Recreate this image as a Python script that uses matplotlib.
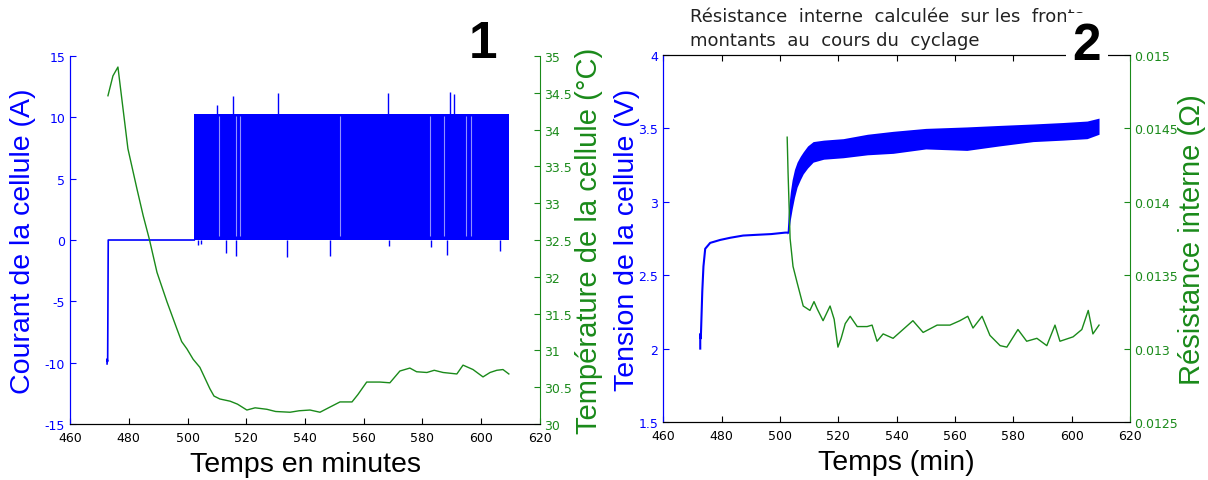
import matplotlib
matplotlib.use("Agg")
import matplotlib.pyplot as plt

plt.rcParams['font.family'] = ['Liberation Sans', 'DejaVu Sans']
plt.rcParams['axes.unicode_minus'] = False

BLUE = '#0000ff'
GREEN = '#1a8a1a'

# --- graph 1 : courant / temperature
cur_t = [472.6, 472.6, 472.8, 473.0, 502.3]
cur_i = [-10.1, -9.7, -9.9, 0.0, 0.0]
pulse_start, pulse_end = 502.2, 609.4
pulse_low, pulse_high = 0.0, 10.27
spike_up_t = [510.0, 515.5, 530.8, 568.2, 589.4, 590.7]
spike_up_i = [11.0, 11.7, 12.0, 12.0, 12.1, 11.9]
spike_dn_t = [503.5, 504.6, 513.0, 516.5, 533.8, 548.5, 568.5, 583.0, 588.3, 606.3]
spike_dn_i = [-0.4, -0.3, -1.1, -1.3, -1.4, -1.3, -0.5, -0.6, -1.2, -0.9]
gap_t = [510.8, 516.5, 518.0, 551.9, 582.5, 587.3, 594.8, 596.5]

temp_t = [472.9, 474.6, 476.3, 477.0, 479.7, 482.8, 484.9, 487.0, 489.6, 493.0,
          496.4, 498.0, 499.8, 501.9, 504.2, 507.6, 509.0, 511.0, 514.5, 517.0,
          520.2, 523.0, 527.0, 530.0, 534.9, 538.0, 541.7, 545.1, 548.0, 551.9,
          556.0, 558.0, 561.0, 565.5, 568.9, 572.3, 575.7, 578.0, 581.5, 584.0,
          587.0, 591.7, 593.8, 597.2, 600.6, 603.0, 605.3, 607.4, 609.4]
temp_c = [34.46, 34.73, 34.85, 34.62, 33.74, 33.19, 32.83, 32.51, 32.06, 31.66,
          31.29, 31.12, 31.02, 30.88, 30.77, 30.48, 30.38, 30.34, 30.31, 30.27,
          30.19, 30.22, 30.20, 30.17, 30.16, 30.18, 30.19, 30.16, 30.22, 30.30,
          30.30, 30.40, 30.57, 30.57, 30.56, 30.72, 30.76, 30.71, 30.70, 30.73,
          30.70, 30.68, 30.80, 30.74, 30.64, 30.70, 30.73, 30.74, 30.68]

# --- graph 2 : tension / resistance
volt_t = [472.7, 472.7, 472.9, 473.4, 473.8, 474.4, 476.1, 479.5, 483.0, 487.4,
          492.0, 497.0, 501.8, 502.5]
volt_v = [2.0, 2.1, 2.07, 2.39, 2.56, 2.68, 2.72, 2.74, 2.755, 2.77,
          2.775, 2.78, 2.79, 2.79]
band_t = [502.5, 503.0, 503.6, 504.2, 505.0, 505.9, 507.0, 508.0, 509.5, 511.4,
          515.0, 521.7, 530.0, 538.8, 550.0, 564.1, 575.0, 586.8, 597.0, 605.3, 609.4]
band_hi = [2.80, 2.96, 3.07, 3.15, 3.22, 3.27, 3.31, 3.34, 3.38, 3.41,
           3.42, 3.43, 3.46, 3.48, 3.50, 3.51, 3.52, 3.53, 3.54, 3.55, 3.57]
band_lo = [2.78, 2.79, 2.88, 2.95, 3.03, 3.10, 3.15, 3.19, 3.23, 3.27,
           3.29, 3.30, 3.32, 3.33, 3.36, 3.35, 3.38, 3.41, 3.42, 3.43, 3.46]

res_t = [502.5, 502.8, 503.5, 504.5, 505.9, 508.0, 510.3, 511.7, 512.8, 514.8,
         517.2, 518.6, 519.9, 521.0, 522.4, 524.1, 526.5, 529.9, 531.6, 533.3,
         535.4, 538.8, 542.2, 545.6, 549.1, 553.9, 558.3, 561.7, 564.4, 566.2,
         569.3, 572.0, 575.5, 577.8, 581.6, 584.6, 588.1, 591.5, 594.3, 596.0,
         600.5, 603.5, 605.7, 607.3, 609.4]
res_ohm = [0.01444, 0.01420, 0.01375, 0.01356, 0.01345, 0.01329, 0.01326, 0.01332, 0.01327, 0.01319,
           0.01329, 0.01320, 0.01301, 0.01307, 0.01317, 0.01322, 0.01315, 0.01315, 0.01316, 0.01305,
           0.01310, 0.01307, 0.01313, 0.01319, 0.01311, 0.01316, 0.01316, 0.01319, 0.01322, 0.01314,
           0.01322, 0.01309, 0.01302, 0.01301, 0.01313, 0.01305, 0.01307, 0.01302, 0.01316, 0.01305,
           0.01308, 0.01313, 0.01326, 0.01310, 0.01316]

x_ticks = [460, 480, 500, 520, 540, 560, 580, 600, 620]
cur_ticks = [-15, -10, -5, 0, 5, 10, 15]
temp_ticks = [30, 30.5, 31, 31.5, 32, 32.5, 33, 33.5, 34, 34.5, 35]
volt_ticks = [1.5, 2, 2.5, 3, 3.5, 4]
res_ticks = [0.0125, 0.013, 0.0135, 0.014, 0.0145, 0.015]
res_labels = ['0.0125', '0.013', '0.0135', '0.014', '0.0145', '0.015']

fig = plt.figure(figsize=(12.08, 4.81), dpi=100)
TICKFONT = 'DejaVu Sans'


def style(ax, twin, lcol, rcol, top):
    ax.set_xlim(460, 620)
    ax.set_xticks(x_ticks)
    ax.set_xticklabels([str(v) for v in x_ticks])
    ax.tick_params(axis='x', direction='in', labelsize=9, length=4, top=top, pad=5)
    ax.tick_params(axis='y', direction='in', labelsize=9, colors=lcol, length=4, pad=3.5)
    twin.tick_params(axis='y', direction='in', labelsize=9, colors=rcol, length=4, pad=3)
    for lab in ax.get_xticklabels() + ax.get_yticklabels() + twin.get_yticklabels():
        lab.set_family(TICKFONT)
    ax.spines['left'].set_color(lcol)
    twin.spines['left'].set_color(lcol)
    ax.spines['right'].set_visible(False)
    twin.spines['right'].set_color(rcol)
    ax.spines['top'].set_visible(top)
    twin.spines['top'].set_visible(top)
    for a in (ax, twin):
        a.patch.set_visible(False)


# graphe 1
ax1 = fig.add_axes([0.058, 0.1164, 0.389, 0.7651])
tw1 = ax1.twinx()
ax1.fill_between([pulse_start, pulse_end], pulse_low, pulse_high, color=BLUE, lw=0)
ax1.vlines(spike_up_t, pulse_high, spike_up_i, color=BLUE, lw=1)
ax1.vlines(spike_dn_t, spike_dn_i, pulse_low, color=BLUE, lw=1)
ax1.vlines(gap_t, 0.3, pulse_high - 0.2, color='#9090ff', lw=0.8)
ax1.plot(cur_t, cur_i, color=BLUE, lw=1.2)
tw1.plot(temp_t, temp_c, color=GREEN, lw=1)
ax1.set_ylim(-15, 15)
ax1.set_yticks(cur_ticks)
tw1.set_ylim(30, 35)
tw1.set_yticks(temp_ticks)
tw1.set_yticklabels(['%g' % v for v in temp_ticks])
style(ax1, tw1, BLUE, GREEN, False)
ax1.set_xlabel('Temps en minutes', fontsize=20.5, labelpad=5)
ax1.set_ylabel('Courant de la cellule (A)', fontsize=20.5, color=BLUE, labelpad=6)
tw1.set_ylabel('Température de la cellule (°C)', fontsize=21, color=GREEN, labelpad=2)

# graphe 2
ax2 = fig.add_axes([0.549, 0.1206, 0.3864, 0.763])
tw2 = ax2.twinx()
ax2.plot(volt_t, volt_v, color=BLUE, lw=1.5)
ax2.fill_between(band_t, band_lo, band_hi, color=BLUE, lw=0)
tw2.plot(res_t, res_ohm, color=GREEN, lw=1)
ax2.set_ylim(1.5, 4)
ax2.set_yticks(volt_ticks)
ax2.set_yticklabels(['%g' % v for v in volt_ticks])
tw2.set_ylim(0.0125, 0.015)
tw2.set_yticks(res_ticks)
tw2.set_yticklabels(res_labels)
style(ax2, tw2, BLUE, GREEN, True)
ax2.set_xlabel('Temps (min)', fontsize=20.5, labelpad=5)
ax2.set_ylabel('Tension de la cellule (V)', fontsize=20.5, color=BLUE, labelpad=-1)
tw2.set_ylabel('Résistance interne (Ω)', fontsize=21, color=GREEN, labelpad=0)

fig.text(690 / 1208, 1 - 29 / 481, 'Résistance  interne  calculée  sur les  fronts\nmontants  au  cours du  cyclage',
         fontsize=13, family='DejaVu Sans', color='#222222', ha='left', va='center', linespacing=1.45)
fig.text(483 / 1208, 1 - 44 / 481, '1', fontsize=37, fontweight='bold', ha='center', va='center')
fig.text(1087 / 1208, 1 - 46 / 481, '2', fontsize=37, fontweight='bold', ha='center', va='center',
         zorder=10, bbox=dict(facecolor='white', edgecolor='none', pad=5))

fig.savefig('out.png', dpi=100)
